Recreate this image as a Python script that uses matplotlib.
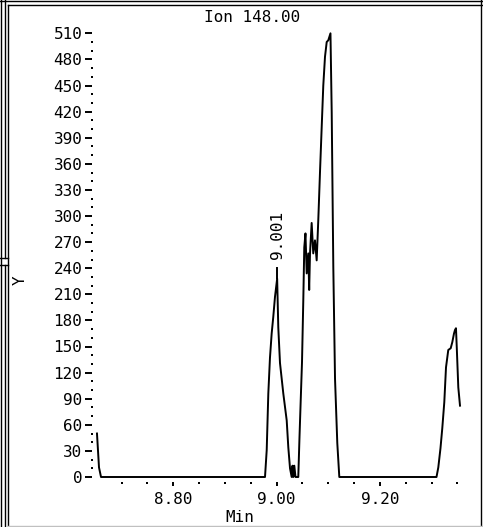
import numpy as np
import matplotlib
matplotlib.use('Agg')
import matplotlib.pyplot as plt
from matplotlib.lines import Line2D

# extracted ion chromatogram, m/z 148
times = np.array([8.6523, 8.6562, 8.6601, 8.9775, 8.9808, 8.9839, 8.9871, 8.9904,
                  8.9935, 8.9968, 9.0010, 9.0032, 9.0065, 9.0129, 9.0195, 9.0226,
                  9.0259, 9.0291, 9.0307, 9.0322, 9.0342, 9.0365, 9.0419, 9.0442,
                  9.0466, 9.0491, 9.0516, 9.0535, 9.0558, 9.0582, 9.0613, 9.0630,
                  9.0646, 9.0678, 9.0709, 9.0742, 9.0775, 9.0806, 9.0839, 9.0872,
                  9.0903, 9.0936, 9.0969, 9.1000, 9.1042, 9.1066, 9.1097, 9.1130,
                  9.1174, 9.1213, 9.3094, 9.3129, 9.3171, 9.3206, 9.3245, 9.3278,
                  9.3322, 9.3369, 9.3400, 9.3433, 9.3452, 9.3471, 9.3487, 9.3516,
                  9.3549])
counts = np.array([50, 11, 0, 0, 31, 96, 137, 165,
                   184, 207, 228, 172, 131, 96, 65, 34,
                   10, 0, 13, 0, 13, 0, 0, 45,
                   88, 132, 203, 264, 280, 234, 257, 215,
                   257, 292, 257, 272, 249, 295, 350, 402,
                   450, 483, 500, 502, 510, 419, 241, 113,
                   39, 0, 0, 11, 33, 56, 86, 126,
                   146, 148, 155, 165, 169, 171, 148, 103,
                   82])

peak_time = 9.001
peak_label = '9.001'
title = 'Ion 148.00'
xmajor = [8.80, 9.00, 9.20]
xminor = [8.70, 8.75, 8.85, 8.90, 8.95, 9.05, 9.10, 9.15, 9.25, 9.30, 9.35]
ymajor = list(range(0, 511, 30))
yminor = [v for v in range(10, 511, 10) if v % 30]

W, H = 483, 527
font = 'DejaVu Sans Mono'
fs = 11.5


def fx(x):
    return x / W


def fy(y):
    return 1 - y / H


fig = plt.figure(figsize=(W / 100, H / 100), dpi=100)
fig.patch.set_facecolor('white')

ax = fig.add_axes([fx(96), fy(477), (463 - 96) / W, (477 - 33.3) / H])
ax.set_xlim(8.6504, 9.3607)
ax.set_ylim(0, 510)

ax.plot(times, counts, color='black', lw=1.4, clip_on=False)

# no axis lines, just the ticks set off from the plot area
for s in ax.spines.values():
    s.set_visible(False)
ax.spines['left'].set_position(('outward', 4 * 0.72))
ax.spines['bottom'].set_position(('outward', 5 * 0.72))

ax.set_xticks(xmajor)
ax.set_xticklabels(['%.2f' % v for v in xmajor], fontfamily=font, fontsize=fs)
ax.set_yticks(ymajor)
ax.set_yticklabels([str(v) for v in ymajor], fontfamily=font, fontsize=fs)
ax.tick_params(axis='x', direction='out', length=3, width=1.4, pad=4)
ax.tick_params(axis='y', direction='out', length=5, width=1.4, pad=2)

# dotted minor ticks
ax.plot(xminor, [-6 / 443.4] * len(xminor), ls='none', marker='s', ms=1.5,
        mew=0, color='black', transform=ax.get_xaxis_transform(), clip_on=False)
ax.plot([-4.5 / 367] * len(yminor), yminor, ls='none', marker='s', ms=1.5,
        mew=0, color='black', transform=ax.get_yaxis_transform(), clip_on=False)

# peak apex marker and retention time
pk = counts[np.argmin(np.abs(times - peak_time))]
ax.plot([peak_time, peak_time], [pk + 1.15 * 1, pk + 1.15 * 11], color='black',
        lw=1.4, clip_on=False)
ax.annotate(peak_label, xy=(peak_time, pk), xytext=(0.5, 14.5),
            textcoords='offset points', rotation=90, ha='center', va='bottom',
            fontfamily=font, fontsize=fs)

fig.text(fx(252), fy(17.5), title, ha='center', va='center',
         fontfamily=font, fontsize=fs)
fig.text(fx(240), fy(518), 'Min', ha='center', va='center',
         fontfamily=font, fontsize=fs)
fig.text(fx(20), fy(280), 'Y', ha='center', va='center', rotation=90,
         fontfamily=font, fontsize=fs)

# window frame
frame = [
    ((0, 1), (483, 1)),
    ((8, 4.5), (483, 4.5)),
    ((1, 0), (1, 527)),
    ((4.5, 0), (4.5, 258)),
    ((4.5, 265), (4.5, 527)),
    ((8, 4.5), (8, 527)),
    ((0, 258), (8, 258)),
    ((0, 265), (8, 265)),
    ((481, 0), (481, 527)),
]
for (x0, y0), (x1, y1) in frame:
    fig.add_artist(Line2D([fx(x0), fx(x1)], [fy(y0), fy(y1)], color='black',
                          lw=1.0))
fig.add_artist(Line2D([fx(8), fx(483)], [fy(525.5), fy(525.5)], color='#c0c0c0',
                      lw=1.0))

fig.savefig('out.png', dpi=100)
